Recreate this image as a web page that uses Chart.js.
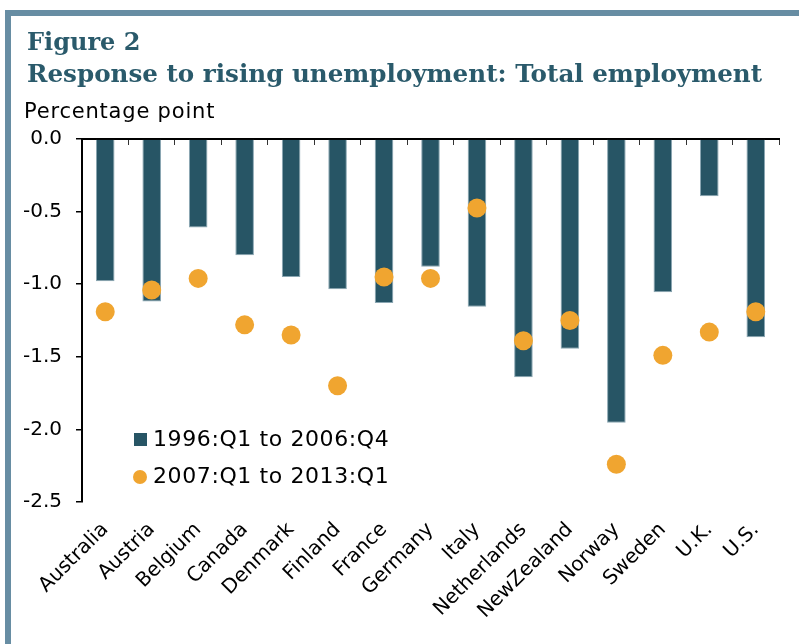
<!DOCTYPE html>
<html>
<head>
<meta charset="utf-8">
<script src="https://cdn.jsdelivr.net/npm/chart.js"></script>
<style>
  body { margin: 0; background: #fff; overflow: hidden; }
  #c { position: absolute; left: 0; top: 0; }
  .bar-top { position: absolute; left: 5px; top: 10px; width: 794px; height: 6px; background: #678da3; }
  .bar-left { position: absolute; left: 5px; top: 10px; width: 6px; height: 634px; background: #678da3; }
  .ttl { position: absolute; left: 27px; font-family: "DejaVu Serif", serif; font-weight: bold; color: #2a5a6b; white-space: nowrap; line-height: 1; }
  #t1 { top: 30px; font-size: 24px; }
  #t2 { top: 62px; font-size: 24.6px; }
  #unit { position: absolute; left: 24px; top: 101px; font-family: "DejaVu Sans", sans-serif; font-size: 21px; letter-spacing: 0.8px; line-height: 1; color: #000; }
</style>
</head>
<body>
<canvas id="c" width="799" height="644"></canvas>
<div class="bar-top"></div>
<div class="bar-left"></div>
<div class="ttl" id="t1">Figure 2</div>
<div class="ttl" id="t2">Response to rising unemployment: Total employment</div>
<div id="unit">Percentage point</div>
<script>
// country labels and the two periods
const countries = ['Australia', 'Austria', 'Belgium', 'Canada', 'Denmark', 'Finland', 'France', 'Germany',
  'Italy', 'Netherlands', 'NewZealand', 'Norway', 'Sweden', 'U.K.', 'U.S.'];
const period1 = [-0.98, -1.12, -0.61, -0.80, -0.95, -1.035, -1.13, -0.88, -1.155, -1.64, -1.445, -1.955, -1.055, -0.395, -1.365];
const period2 = [-1.19, -1.04, -0.96, -1.28, -1.35, -1.70, -0.95, -0.96, -0.475, -1.39, -1.25, -2.24, -1.49, -1.33, -1.19];
const label1 = '1996:Q1 to 2006:Q4';
const label2 = '2007:Q1 to 2013:Q1';

const barCol = '#275565';
const dotCol = '#f0a530';
const fnt = '"DejaVu Sans", sans-serif';

// legend sits inside the plot, lower left
const insideLegend = {
  id: 'insideLegend',
  afterDraw(chart) {
    const ctx = chart.ctx;
    ctx.save();
    ctx.font = '22px ' + fnt;
    ctx.letterSpacing = '0.6px';
    ctx.textBaseline = 'middle';
    ctx.fillStyle = barCol;
    ctx.fillRect(134, 433, 13, 13);
    ctx.fillStyle = '#000';
    ctx.fillText(chart.data.datasets[0].label, 153, 440);
    ctx.fillStyle = dotCol;
    ctx.beginPath();
    ctx.arc(140, 477, 7, 0, Math.PI * 2);
    ctx.fill();
    ctx.fillStyle = '#000';
    ctx.fillText(chart.data.datasets[1].label, 153, 477);
    ctx.restore();
  }
};

const ctx = document.getElementById('c').getContext('2d');
new Chart(ctx, {
  type: 'bar',
  data: {
    labels: countries,
    datasets: [{
      label: label1,
      data: period1,
      backgroundColor: barCol,
      borderColor: '#8aa6b2',
      borderWidth: 1,
      categoryPercentage: 1,
      barPercentage: 0.4,
      order: 2
    }, {
      type: 'line',
      label: label2,
      data: period2,
      showLine: false,
      pointRadius: 9.5,
      pointHoverRadius: 9.5,
      pointBackgroundColor: dotCol,
      pointBorderWidth: 0,
      order: 1
    }]
  },
  options: {
    responsive: false,
    animation: false,
    layout: { padding: { left: 0, top: 139, right: 20, bottom: 0 } },
    plugins: { legend: { display: false }, tooltip: { enabled: false } },
    scales: {
      x: {
        position: 'bottom',
        offset: true,
        grid: { display: false, drawTicks: false },
        border: { display: false },
        ticks: { color: '#000', font: { family: fnt, size: 20 }, maxRotation: 45, minRotation: 45, padding: 16, autoSkip: false },
        afterFit: (s) => { s.height = 142; }
      },
      x2: {
        type: 'category',
        position: 'top',
        offset: true,
        grid: { offset: true, drawOnChartArea: false, tickLength: -6, color: '#333', lineWidth: 1 },
        border: { display: true, color: '#000', width: 2 },
        ticks: { display: false },
        afterFit: (s) => { s.height = 0; }
      },
      y: {
        min: -2.5,
        max: 0,
        grid: { drawOnChartArea: false, tickLength: 6, color: '#000', lineWidth: 1.5 },
        border: { display: true, color: '#000', width: 2 },
        ticks: { stepSize: 0.5, color: '#000', padding: 14, font: { family: fnt, size: 20 },
          callback: (v) => v.toFixed(1) },
        afterFit: (s) => { s.width = 82; }
      }
    }
  },
  plugins: [insideLegend]
});
</script>
</body>
</html>
